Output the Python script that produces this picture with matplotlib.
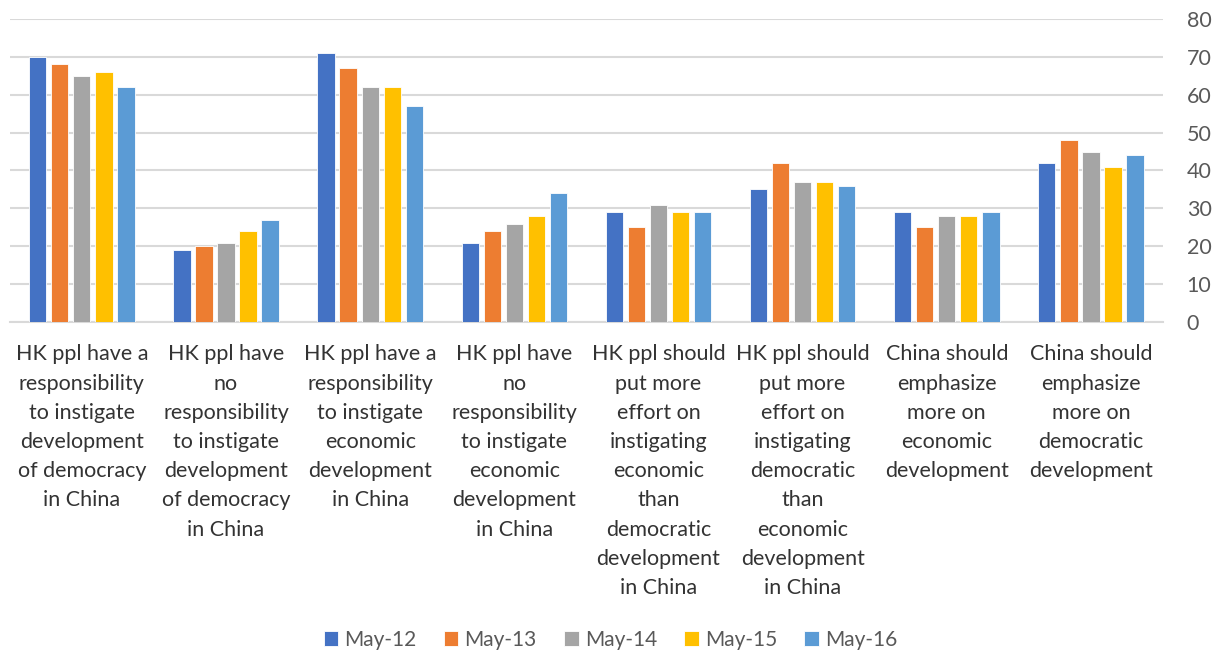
import matplotlib
matplotlib.use("Agg")
import matplotlib.pyplot as plt
import numpy as np

categories = [
    "HK ppl have a\nresponsibility\nto instigate\ndevelopment\nof democracy\nin China",
    "HK ppl have\nno\nresponsibility\nto instigate\ndevelopment\nof democracy\nin China",
    "HK ppl have a\nresponsibility\nto instigate\neconomic\ndevelopment\nin China",
    "HK ppl have\nno\nresponsibility\nto instigate\neconomic\ndevelopment\nin China",
    "HK ppl should\nput more\neffort on\ninstigating\neconomic\nthan\ndemocratic\ndevelopment\nin China",
    "HK ppl should\nput more\neffort on\ninstigating\ndemocratic\nthan\neconomic\ndevelopment\nin China",
    "China should\nemphasize\nmore on\neconomic\ndevelopment",
    "China should\nemphasize\nmore on\ndemocratic\ndevelopment",
]
series_names = ["May-12", "May-13", "May-14", "May-15", "May-16"]
may12 = [70, 19, 71, 21, 29, 35, 29, 42]
may13 = [68, 20, 67, 24, 25, 42, 25, 48]
may14 = [65, 21, 62, 26, 31, 37, 28, 45]
may15 = [66, 24, 62, 28, 29, 37, 28, 41]
may16 = [62, 27, 57, 34, 29, 36, 29, 44]
colors = ["#4472C4", "#ED7D31", "#A5A5A5", "#FFC000", "#5B9BD5"]

plt.rcParams['font.family'] = ['Lato', 'DejaVu Sans']

fig = plt.figure(figsize=(12.21, 6.52), dpi=100)
ax = fig.add_axes([0.008, 0.506, 0.9445, 0.465])

x = np.arange(len(categories))
step = 0.153
width = 0.12
for i, vals in enumerate([may12, may13, may14, may15, may16]):
    ax.bar(x + (i - 2) * step, vals, width, color=colors[i], label=series_names[i],
           edgecolor="white", linewidth=0.6, zorder=3)

ax.set_xlim(-0.5, len(categories) - 0.5)
ax.set_ylim(0, 80)
ax.set_yticks(range(0, 81, 10))
ax.yaxis.tick_right()
ax.tick_params(axis="y", length=0, pad=17, labelsize=15.5, labelcolor="#595959")
ax.set_xticks(x)
ax.set_xticklabels(categories, fontsize=15.5, color="#333333")
ax.tick_params(axis="x", length=0, pad=16)
for t in ax.get_xticklabels():
    t.set_linespacing(1.575)
ax.grid(axis="y", color="#d9d9d9", linewidth=1.5, zorder=0)
for s in ["top", "left", "right"]:
    ax.spines[s].set_visible(False)
ax.spines["bottom"].set_color("#d9d9d9")
ax.spines["bottom"].set_linewidth(1.5)

fig.legend(loc="lower center", bbox_to_anchor=(0.5, -0.025), ncol=5, frameon=False,
           fontsize=15, handlelength=0.7, handleheight=0.7, handletextpad=0.3,
           columnspacing=1.3, labelcolor="#595959")

fig.savefig("out.png", dpi=100)
